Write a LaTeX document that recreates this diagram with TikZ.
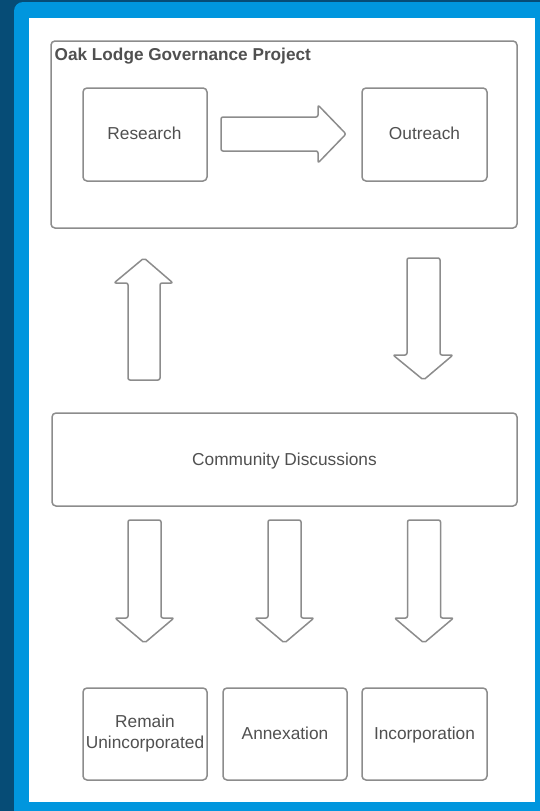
\documentclass[tikz,border=0pt]{standalone}
\usepackage{fontspec}
\setmainfont{Liberation Sans}
\definecolor{darkbg}{HTML}{064C76}
\definecolor{lightbg}{HTML}{0096DE}
\definecolor{linegray}{HTML}{8C8C8C}
\definecolor{textgray}{HTML}{505050}
\tikzset{
  box/.style={draw=linegray, line width=1.5pt, rounded corners=4pt, fill=white},
  blockarrow/.style={draw=linegray, line width=1.5pt, rounded corners=2pt, fill=white, line join=round},
  lbl/.style={text=textgray, font=\fontsize{17.3}{20.5}\selectfont, align=center, inner sep=0pt, anchor=base},
}
\begin{document}
\begin{tikzpicture}[x=1pt, y=-1pt]
\useasboundingbox (0,0) rectangle (540,811);
\fill[darkbg] (0,0) rectangle (540,811);
\fill[lightbg, rounded corners=9pt] (14,2) rectangle (560,830);
\fill[white] (29,18) rectangle (535,802);

% project frame
\draw[box] (51,41) rectangle (517,228);
\node[lbl, anchor=base west, font=\bfseries\fontsize{17.2}{20}\selectfont] (title) at (54.5,60) {Oak Lodge Governance Project};

\draw[box] (83,88) rectangle (207,181);
\node[lbl] (research) at (144.5,139.5) {Research};
\draw[box] (362,88) rectangle (487,181);
\node[lbl] (outreach) at (424.5,139.5) {Outreach};

% right block arrow
\draw[blockarrow] (221,117) -- (318,117) -- (318,105) -- (346,134) -- (318,163) -- (318,151) -- (221,151) -- cycle;

% up block arrow
\draw[blockarrow] (128,380) -- (128,283) -- (114,283) -- (144,258) -- (173,283) -- (160,283) -- (160,380) -- cycle;

% down block arrow
\draw[blockarrow] (407,258) -- (440,258) -- (440,355) -- (453,355) -- (423.5,380) -- (393,355) -- (407,355) -- cycle;

% community
\draw[box] (52,413) rectangle (517,506);
\node[lbl] (community) at (284.5,465) {Community Discussions};

% three down block arrows
\foreach \cx in {144.5,284.5,424} {
  \draw[blockarrow] (\cx-16.5,520) -- (\cx+16.5,520) -- (\cx+16.5,618) -- (\cx+29.5,618) -- (\cx,643) -- (\cx-29.5,618) -- (\cx-16.5,618) -- cycle;
}

% outcomes
\draw[box] (83,688) rectangle (207,780);
\node[lbl] (remain) at (145,727.7) {Remain};
\node[lbl] (uninc) at (145,748) {Unincorporated};
\draw[box] (223,688) rectangle (347,780);
\node[lbl] (annex) at (285,739.3) {Annexation};
\draw[box] (362,688) rectangle (487,780);
\node[lbl] (incorp) at (424.5,739.3) {Incorporation};
\end{tikzpicture}
\end{document}
